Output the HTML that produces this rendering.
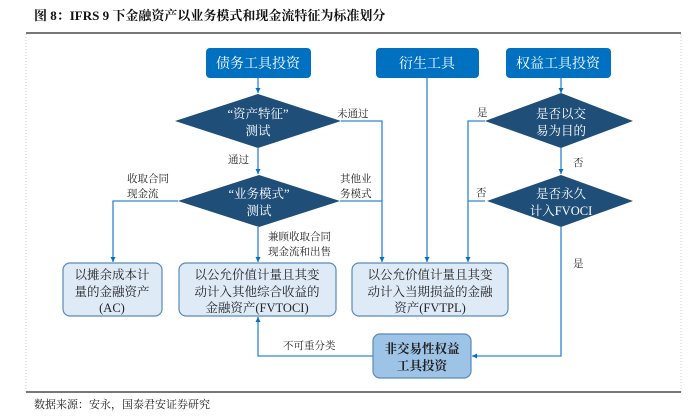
<!DOCTYPE html>
<html><head><meta charset="utf-8"><style>
html,body{margin:0;padding:0;background:#fff;}
svg{display:block;}
text{font-family:"Liberation Serif","Noto Serif CJK SC",serif;}
</style></head><body>
<svg width="700" height="419" viewBox="0 0 700 419" xmlns="http://www.w3.org/2000/svg">
<defs>
<marker id="a" markerWidth="6" markerHeight="6" refX="5" refY="3" orient="auto" markerUnits="userSpaceOnUse">
<path d="M0,0.5 L5,3 L0,5.5 Z" fill="#0070c0"/></marker>
</defs>
<text x="34" y="20" font-size="13" font-weight="bold" fill="#111">图 8：IFRS 9 下金融资产以业务模式和现金流特征为标准划分</text>
<line x1="26" y1="33" x2="681" y2="33" stroke="#777" stroke-width="2"/>
<line x1="26" y1="34" x2="26" y2="392" stroke="#ccc" stroke-width="1" stroke-dasharray="1,2"/>
<line x1="681" y1="34" x2="681" y2="392" stroke="#ccc" stroke-width="1" stroke-dasharray="1,2"/>
<line x1="26" y1="392" x2="681" y2="392" stroke="#777" stroke-width="2"/>
<text x="34" y="408" font-size="11" fill="#222">数据来源：安永，国泰君安证券研究</text>

<g stroke="#2e86d0" stroke-width="1.3" fill="none">
<line x1="258" y1="78" x2="258" y2="93" marker-end="url(#a)"/>
<line x1="258" y1="148" x2="258" y2="174" marker-end="url(#a)"/>
<polyline points="341,121 382,121 382,262" marker-end="url(#a)"/>
<polyline points="340,201 382,201"/>
<polyline points="178,201 113,201 113,262" marker-end="url(#a)"/>
<line x1="258" y1="227" x2="258" y2="262" marker-end="url(#a)"/>
<line x1="427" y1="78" x2="427" y2="262" marker-end="url(#a)"/>
<line x1="561" y1="78" x2="561" y2="93" marker-end="url(#a)"/>
<polyline points="485,121 468,121 468,262" marker-end="url(#a)"/>
<polyline points="485,201 468,201"/>
<line x1="561" y1="148" x2="561" y2="174" marker-end="url(#a)"/>
<polyline points="561,227 561,356 472,356" marker-end="url(#a)"/>
<polyline points="373,356 258,356 258,317" marker-end="url(#a)"/>
</g>

<g fill="#0070c0">
<rect x="206" y="48" width="105" height="30" rx="4"/>
<rect x="376" y="48" width="103" height="30" rx="4"/>
<rect x="506" y="48" width="105" height="30" rx="4"/>
</g>
<g fill="#fff" font-size="14" text-anchor="middle">
<text x="258" y="68">债务工具投资</text>
<text x="427" y="68">衍生工具</text>
<text x="558" y="68">权益工具投资</text>
</g>

<g fill="#1f4e79">
<polygon points="258,94 341,121 258,148 175,121"/>
<polygon points="259,175 340,201 259,227 178,201"/>
<polygon points="561,93 633,121 561,148 485,121"/>
<polygon points="561,175 633,201 561,227 487,201"/>
</g>
<g fill="#fff" font-size="12.5" text-anchor="middle">
<text x="258" y="118">“资产特征”</text><text x="258" y="135">测试</text>
<text x="259" y="198">“业务模式”</text><text x="259" y="215">测试</text>
<text x="561" y="118">是否以交</text><text x="561" y="135">易为目的</text>
<text x="561" y="198">是否永久</text><text x="561" y="215">计入FVOCI</text>
</g>

<g fill="#deebf7" stroke="#5b8ab8" stroke-width="1.2">
<rect x="63" y="263" width="99" height="53" rx="7"/>
<rect x="179" y="263" width="157" height="53" rx="7"/>
<rect x="352" y="263" width="156" height="53" rx="7"/>
<rect x="373" y="334" width="98" height="44" rx="7" fill="#9dc3e6"/>
</g>
<g fill="#222" font-size="12.5" text-anchor="middle">
<text x="112" y="279">以摊余成本计</text><text x="112" y="296">量的金融资产</text><text x="112" y="312">(AC)</text>
<text x="257" y="279">以公允价值计量且其变</text><text x="257" y="296">动计入其他综合收益的</text><text x="257" y="312">金融资产(FVTOCI)</text>
<text x="430" y="279">以公允价值计量且其变</text><text x="430" y="296">动计入当期损益的金融</text><text x="430" y="312">资产(FVTPL)</text>
<text x="422" y="353" font-weight="bold">非交易性权益</text><text x="422" y="370" font-weight="bold">工具投资</text>
</g>

<g fill="#222" font-size="10.5">
<text x="337" y="117">未通过</text>
<text x="228" y="163">通过</text>
<text x="127" y="182">收取合同</text><text x="127" y="197">现金流</text>
<text x="340" y="182">其他业</text><text x="340" y="197">务模式</text>
<text x="268" y="240">兼顾收取合同</text><text x="268" y="255">现金流和出售</text>
<text x="477" y="116">是</text>
<text x="573" y="166">否</text>
<text x="476" y="196">否</text>
<text x="573" y="267">是</text>
<text x="283" y="349">不可重分类</text>
</g>
</svg>
</body></html>
